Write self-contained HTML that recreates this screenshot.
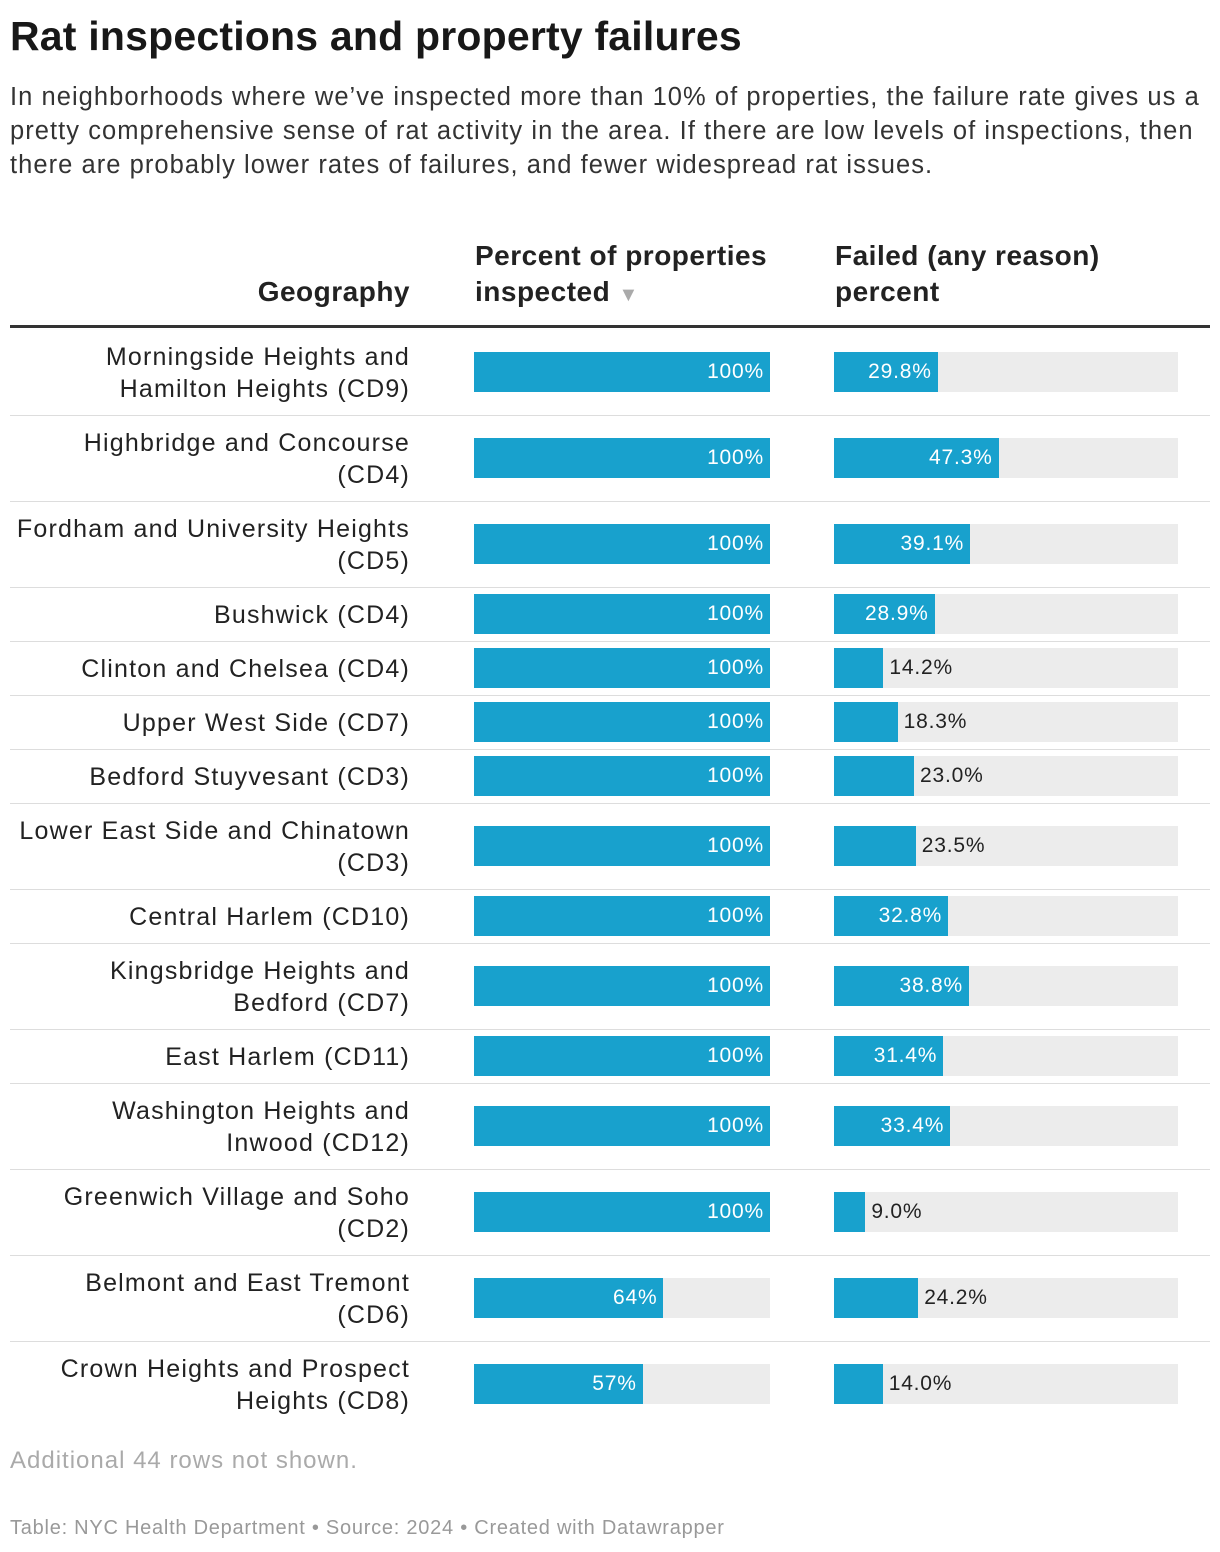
<!DOCTYPE html>
<html><head><meta charset="utf-8">
<style>
body{margin:0;background:#fff;font-family:"Liberation Sans",Roboto,sans-serif;color:#181818;}
#wrap{position:relative;width:1220px;height:1552px;overflow:hidden;}
.abs{position:absolute;}
h1{position:absolute;left:10px;top:13px;margin:0;font-size:41px;font-weight:bold;letter-spacing:0.2px;white-space:nowrap;}
.sub{left:10px;top:80px;width:1210px;font-size:25.5px;line-height:34px;color:#333;letter-spacing:1.05px;white-space:nowrap;}
.hd{font-size:28px;font-weight:bold;line-height:36px;color:#222;letter-spacing:0.5px;white-space:nowrap;}
.lbl{font-size:25px;line-height:32px;text-align:right;width:400px;left:10px;color:#222;letter-spacing:1.2px;white-space:nowrap;}
.bg{background:#ececec;height:40px;}
.bar{background:#18a1cd;height:40px;}
.val{font-size:21px;line-height:40px;height:40px;letter-spacing:0.8px;}
.sep{left:10px;width:1200px;height:1px;background:#ddd;}
</style></head><body>
<div id="wrap">
<h1>Rat inspections and property failures</h1>
<div class="abs sub">In neighborhoods where we’ve inspected more than 10% of properties, the failure rate gives us a<br>pretty comprehensive sense of rat activity in the area. If there are low levels of inspections, then<br>there are probably lower rates of failures, and fewer widespread rat issues.</div>
<div class="abs hd" style="left:10px;width:400px;text-align:right;top:274px">Geography</div>
<div class="abs hd" style="left:475px;top:238px">Percent of properties<br>inspected <span style="color:#aaa;font-size:20px">▼</span></div>
<div class="abs hd" style="left:835px;top:238px">Failed (any reason)<br>percent</div>
<div class="abs" style="left:10px;top:325px;width:1200px;height:3px;background:#333"></div>
<div id="rows"></div>
<div class="abs" style="left:10px;top:1447px;font-size:24px;color:#aaa;letter-spacing:1px">Additional 44 rows not shown.</div>
<div class="abs" style="left:10px;top:1517px;font-size:20px;color:#999;letter-spacing:0.75px">Table: NYC Health Department • Source: 2024 • Created with Datawrapper</div>
</div>
<script>
const geographies=["Morningside Heights and<br>Hamilton Heights (CD9)","Highbridge and Concourse<br>(CD4)","Fordham and University Heights<br>(CD5)","Bushwick (CD4)","Clinton and Chelsea (CD4)","Upper West Side (CD7)","Bedford Stuyvesant (CD3)","Lower East Side and Chinatown<br>(CD3)","Central Harlem (CD10)","Kingsbridge Heights and<br>Bedford (CD7)","East Harlem (CD11)","Washington Heights and<br>Inwood (CD12)","Greenwich Village and Soho<br>(CD2)","Belmont and East Tremont<br>(CD6)","Crown Heights and Prospect<br>Heights (CD8)"];
const inspected=[100,100,100,100,100,100,100,100,100,100,100,100,100,64,57];
const failed=[29.8,47.3,39.1,28.9,14.2,18.3,23.0,23.5,32.8,38.8,31.4,33.4,9.0,24.2,14.0];
const c1x=474,c1w=296,c2x=834,c2w=344;
const xs1=v=>v/100*c1w, xs2=v=>v/100*348;
const root=document.getElementById('rows');
let y=329;
function div(cls,style,txt){const d=document.createElement('div');d.className='abs '+cls;d.style.cssText=style;if(txt!==undefined)d.innerHTML=txt;root.appendChild(d);return d;}
geographies.forEach((g,i)=>{
  const two=g.includes('<br>');const h=two?86:54;const cy=y+h/2;
  const l=div('lbl',`top:${cy-(two?32:16)+1}px`,g);
  
  
  const b1=div('bg',`left:${c1x}px;width:${c1w}px;top:${cy-20}px`);
  
  
  const w1=xs1(inspected[i]);
  const r1=div('bar',`left:${c1x}px;width:${w1}px;top:${cy-20}px`);
  
  
  const v1=div('val',`left:${c1x}px;width:${w1-6}px;text-align:right;color:#fff;top:${cy-20}px`,inspected[i]+'%');
  
  
  const b2=div('bg',`left:${c2x}px;width:${c2w}px;top:${cy-20}px`);
  
  
  const w2=xs2(failed[i]);
  const r2=div('bar',`left:${c2x}px;width:${w2}px;top:${cy-20}px`);
  
  
  const txt=failed[i].toFixed(1)+'%';
  let v2;
  if(w2>90){v2=div('val',`left:${c2x}px;width:${w2-6}px;text-align:right;color:#fff;top:${cy-20}px`,txt);}
  else{v2=div('val',`left:${c2x+w2+6}px;color:#222;top:${cy-20}px`,txt);}
  
  
  y+=h;
  if(i<geographies.length-1){const s=div('sep',`top:${y}px`);
  
  }
});
</script>
</body></html>
